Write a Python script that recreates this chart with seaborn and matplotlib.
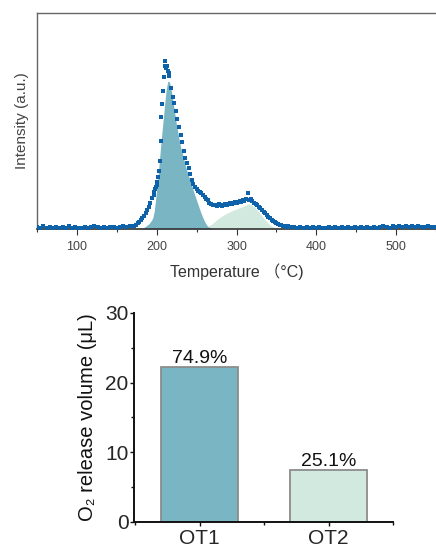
import matplotlib
matplotlib.use("Agg")
import matplotlib.pyplot as plt
from matplotlib.ticker import MultipleLocator
import seaborn as sns
import pandas as pd

sns.set_theme(style="white")
plt.rcParams["font.family"] = ["Liberation Sans", "Noto Sans CJK SC", "DejaVu Sans"]

# ---- O2-TPD trace (temperature in degC, intensity in a.u.) ----
tpd_temp = [50, 54, 58, 62, 66, 70, 74, 78, 82, 86, 90, 94, 98, 102, 106, 110, 114,
            118, 122, 126, 130, 134, 138, 142, 146, 150, 154, 158, 162, 166,
            170, 172, 174, 176, 178, 180, 182, 184, 186, 188, 190, 192, 194,
            196, 197, 198, 199, 200, 201, 202, 203, 204, 205, 206, 207, 208, 209,
            210, 211, 212, 213, 214, 215, 216,
            218, 220, 222, 224, 226, 228, 230, 232, 234, 236, 238, 240, 242, 244,
            246, 248, 250, 252, 254, 256, 258, 260, 262, 264, 266, 268, 270, 272,
            274, 276, 278, 280, 282, 284, 286, 288, 290, 292, 294, 296, 298, 300,
            302, 304, 306, 308, 310, 312, 314, 316, 318, 320, 322, 324, 326, 328,
            330, 332, 334, 336, 338, 340, 342, 344, 346, 348, 350, 352, 354, 356,
            358, 360, 362, 364, 366, 368,
            372, 376, 380, 384, 388, 392, 396, 400, 404, 408, 412, 416, 420, 424,
            428, 432, 436, 440, 444, 448, 452, 456, 460, 464, 468, 472, 476, 480,
            484, 488, 492, 496, 500, 504, 508, 512, 516, 520, 524, 528, 532, 536,
            540, 544, 548]
tpd_intensity = [2, 1, 3, 1.5, 2, 1, 2.5, 1, 2, 1.5, 3, 1, 2, 1.5, 1, 2, 1,
                 2.5, 3, 2, 1.5, 2, 1, 2.5, 2, 1.5, 2.5, 3, 2, 3.5,
                 3, 3.5, 4.5, 6, 7, 9, 11, 13, 16, 19, 22, 26, 31,
                 34, 37, 40, 42, 44, 47, 52, 58, 68, 88, 112, 125, 138, 152,
                 168, 163, 161, 163, 158, 156, 153,
                 141, 132, 126, 118, 110, 102, 94, 87, 78, 71, 66, 61, 55, 49,
                 45, 42, 40, 38.5, 37, 36, 34, 32, 30, 29, 26, 25, 24.5, 24,
                 24, 23, 25, 24, 23, 24, 25, 24, 25, 26, 25, 26, 27, 26,
                 27, 28, 27, 29, 28, 30, 36, 29, 30, 28, 26, 25, 24, 22,
                 21, 19, 17, 16, 14, 12, 11, 9, 8, 7, 6, 5, 4.5, 4,
                 3, 3.5, 2.5, 3, 2, 2.5,
                 2, 1.5, 2, 1, 2, 1.5, 2.5, 1, 2, 1.5, 1, 2, 1.5, 2.5,
                 1, 2, 1.5, 2, 1, 2.5, 1.5, 2, 1, 2, 1.5, 2.5, 1, 2,
                 3, 2, 1.5, 3, 2, 3.5, 2, 3, 2.5, 3.5, 2, 3, 2.5, 2,
                 3, 2, 2.5]

# ---- fitted peak components ----
ot1_temp = [180, 185, 190, 193, 195, 197, 199, 200, 202, 204, 206, 208, 210, 212,
            214, 216, 218, 220, 222, 224, 226, 228, 230, 233, 236, 240, 243, 246,
            249, 252, 255, 258, 261, 264, 268, 272]
ot1_fit = [0, 2, 5, 8, 11, 18, 32, 40, 56, 74, 92, 108, 125, 140,
           148, 147, 140, 130, 119, 108, 99, 90, 82, 73, 63, 53, 46, 38,
           31, 24, 17, 11, 6, 2.5, 0.8, 0]

ot2_temp = [50, 150, 240, 250, 260, 265, 270, 275, 280, 285, 290, 295, 300, 305,
            310, 315, 318, 322, 326, 330, 334, 338, 342, 346, 352, 360, 450, 550]
ot2_fit = [1.2, 1.2, 1.4, 1.6, 2.2, 3, 5.5, 9, 12, 14.5, 16.5, 18.5, 20, 21.5,
           23.5, 25, 24.5, 22.5, 19, 15, 11, 7, 4, 2, 1.4, 1.2, 1.2, 1.2]

# ---- oxygen release volume per component ----
components = ["OT1", "OT2"]
release_volume = [22.17, 7.43]

teal = "#79b5c3"
mint = "#d2e9df"
dot_blue = "#0d62aa"

fig = plt.figure(figsize=(4.36, 5.54), dpi=100)

# ---------------- TPD panel ----------------
ax1 = fig.add_axes([37 / 436, 1 - 229 / 554, 1 - 37 / 436, (229 - 13) / 554])
ax1.fill_between(ot2_temp, ot2_fit, color=mint, linewidth=0, zorder=1)
ax1.fill_between(ot1_temp, ot1_fit, color=teal, linewidth=0, zorder=2)
tpd = pd.DataFrame({"Temperature": tpd_temp, "Intensity": tpd_intensity})
sns.scatterplot(data=tpd, x="Temperature", y="Intensity", ax=ax1, color=dot_blue,
                marker="s", s=7, linewidth=0, zorder=3)
ax1.set_xlim(50, 550)
ax1.set_ylim(0, 216)
ax1.set_yticks([])
ax1.xaxis.set_major_locator(MultipleLocator(100))
ax1.xaxis.set_minor_locator(MultipleLocator(50))
ax1.tick_params(axis="x", which="major", direction="out", length=4, width=0.8,
                color="#333333", labelsize=9, labelcolor="#444444", pad=5, bottom=True)
ax1.tick_params(axis="x", which="minor", direction="out", length=2, width=0.8,
                color="#333333", bottom=True)
ax1.set_xticks([100, 200, 300, 400, 500])
ax1.set_xlabel("Temperature （°C)", fontsize=11.5, color="#333333", labelpad=7)
ax1.set_ylabel("Intensity (a.u.)", fontsize=11, color="#444444", labelpad=6)
for side in ("top", "left"):
    ax1.spines[side].set_color("#666666")
    ax1.spines[side].set_linewidth(1.0)
ax1.spines["bottom"].set_color("#333333")
ax1.spines["bottom"].set_linewidth(1.2)
ax1.spines["right"].set_visible(False)

# ---------------- release volume panel ----------------
ax2 = fig.add_axes([134 / 436, 1 - 521.7 / 554, (393 - 134) / 436, (521.7 - 313) / 554])
bars = pd.DataFrame({"Component": components, "Volume": release_volume})
sns.barplot(data=bars, x="Component", y="Volume", hue="Component",
            palette=[teal, mint], legend=False, width=0.6, ax=ax2,
            edgecolor="#8c8c8c", linewidth=1.3, saturation=1)
total = sum(release_volume)
for i, v in enumerate(release_volume):
    ax2.annotate(f"{v / total * 100:.1f}%", (i, v), xytext=(0, 0),
                 textcoords="offset points", ha="center", va="bottom",
                 fontsize=14, color="#111111")
ax2.set_xlim(-0.51, 1.5)
ax2.set_ylim(0, 30)
ax2.yaxis.set_major_locator(MultipleLocator(10))
ax2.yaxis.set_minor_locator(MultipleLocator(5))
ax2.xaxis.set_minor_locator(MultipleLocator(0.5))
ax2.tick_params(axis="y", which="major", direction="out", length=3, width=1,
                labelsize=15, pad=1, left=True, color="#111111")
ax2.tick_params(axis="y", which="minor", direction="out", length=2, width=1,
                left=True, color="#111111")
ax2.tick_params(axis="x", which="major", direction="out", length=3, width=1,
                labelsize=15, pad=2, bottom=True, color="#111111")
ax2.tick_params(axis="x", which="minor", direction="out", length=2, width=1,
                bottom=True, color="#111111")
ax2.set_xlabel("")
ax2.set_ylabel("O₂ release volume (μL)", fontsize=14.5, color="#111111", labelpad=6)
for side in ("top", "right"):
    ax2.spines[side].set_visible(False)
for side in ("left", "bottom"):
    ax2.spines[side].set_color("#111111")
    ax2.spines[side].set_linewidth(1.4)

fig.savefig("out.png", dpi=100)
